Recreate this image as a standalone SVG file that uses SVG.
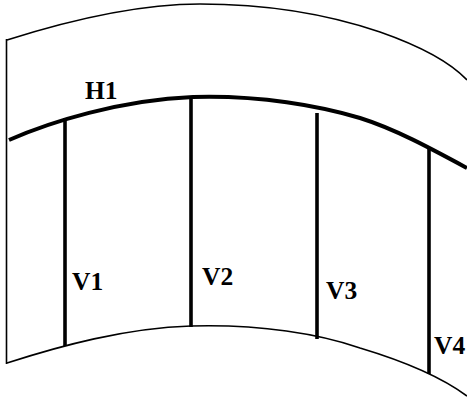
<svg xmlns="http://www.w3.org/2000/svg" width="467" height="404" viewBox="0 0 467 404">
<style>
.thin{fill:none;stroke:#000;stroke-width:1.6}
.thick{fill:none;stroke:#000;stroke-width:4}
.bar{fill:none;stroke:#000;stroke-width:3.6}
.lbl{font-family:"Liberation Serif","Times New Roman",serif;font-weight:bold;font-size:25.5px;fill:#000}
</style>
<rect width="467" height="404" fill="#fff"/>
<g id="outline">
<path class="thin" d="M7,40 C70,20 140,4 200,4 C270,4 330,15 380,32 C420,46 450,62 467,80"/>
<path class="thin" d="M6.5,39 L6.5,364"/>
<path class="thin" d="M7,363 C60,346 125,328 191,326 C260,324 320,334 360,348 C400,360 440,376 467,396"/>
</g>
<g id="H1">
<path class="thick" d="M9,140 C50,122 120,100 193,97 C260,95 320,106 360,118 C395,129 430,148 467,168"/>
<text class="lbl" x="85" y="99">H1</text>
</g>
<g id="V1">
<line class="bar" x1="65" y1="118" x2="65" y2="346"/>
<text class="lbl" x="72" y="290">V1</text>
</g>
<g id="V2">
<line class="bar" x1="191" y1="97" x2="191" y2="327"/>
<text class="lbl" x="202" y="285">V2</text>
</g>
<g id="V3">
<line class="bar" x1="317" y1="113" x2="317" y2="339"/>
<text class="lbl" x="326" y="299">V3</text>
</g>
<g id="V4">
<line class="bar" x1="429" y1="148" x2="429" y2="374"/>
<text class="lbl" x="434" y="354">V4</text>
</g>
</svg>
